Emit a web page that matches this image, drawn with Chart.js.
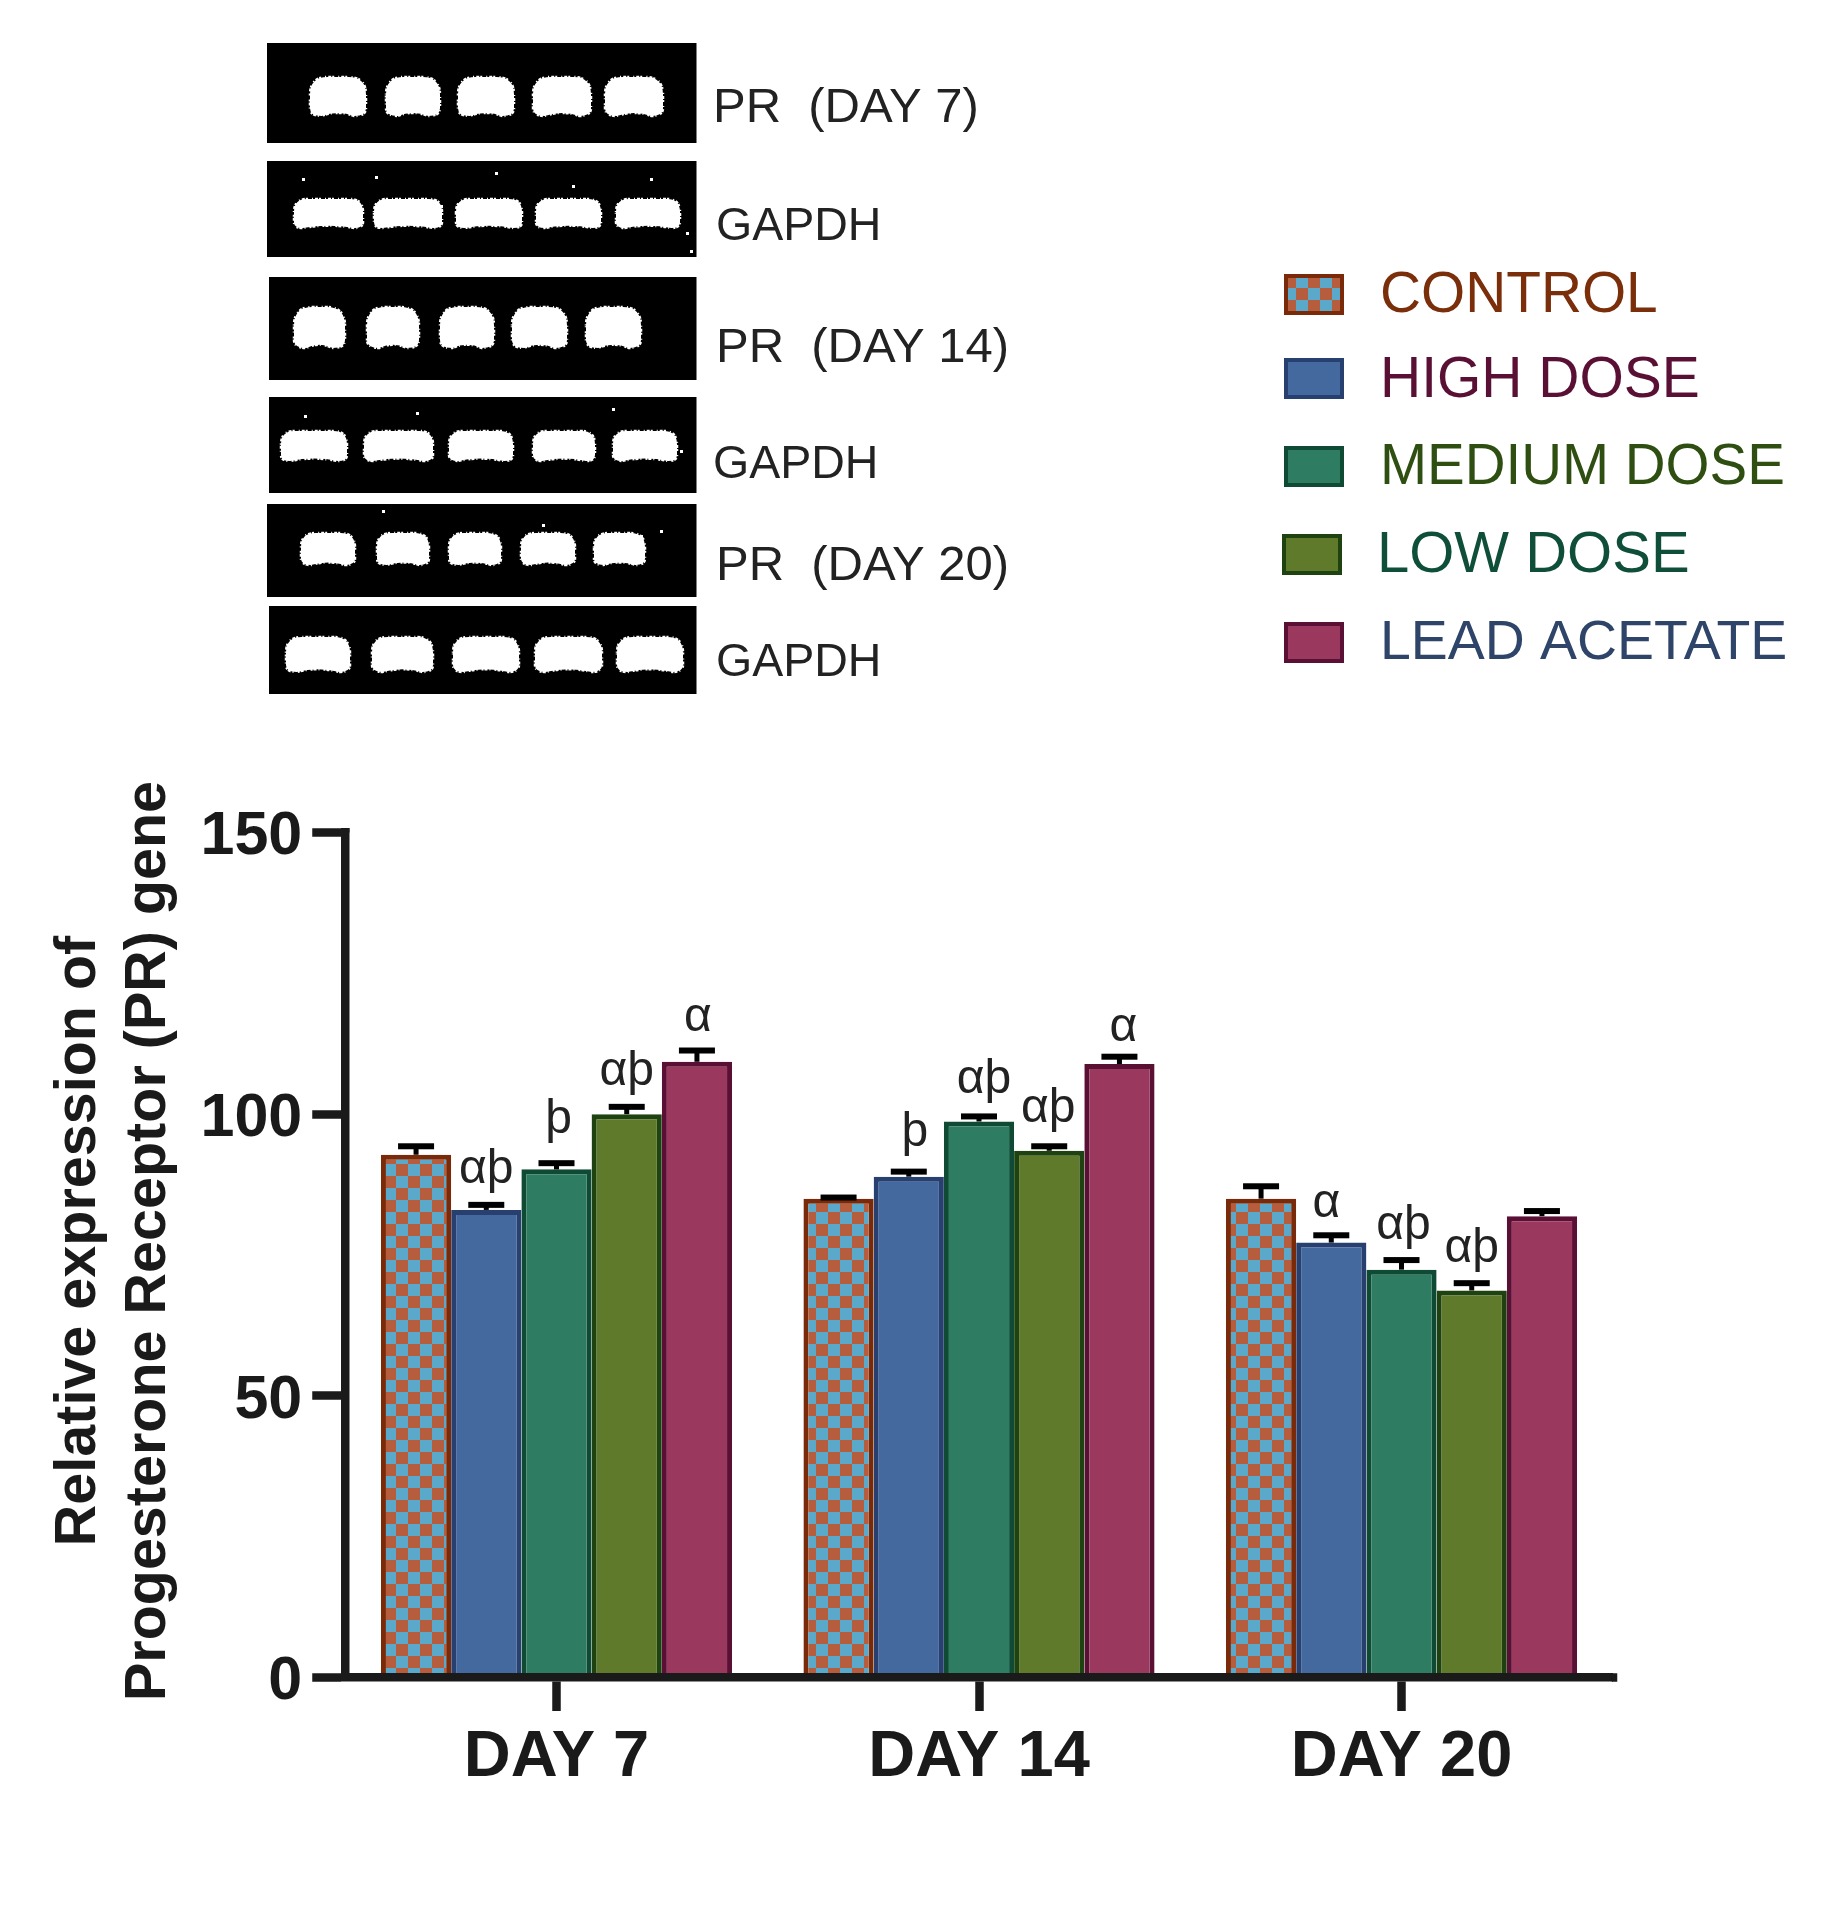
<!DOCTYPE html>
<html lang="en">
<head>
<meta charset="UTF-8">
<title>PR gene expression</title>
<script src="https://cdn.jsdelivr.net/npm/chart.js"></script>
<style>
  html, body { margin: 0; padding: 0; background: #fff; }
  canvas { display: block; }
</style>
</head>
<body>
<canvas id="chart" width="1830" height="1920"></canvas>
<script>
// values
const days = ['DAY 7', 'DAY 14', 'DAY 20'];
const seriesNames = ['CONTROL', 'HIGH DOSE', 'MEDIUM DOSE', 'LOW DOSE', 'LEAD ACETATE'];

const control = [92.8, 85.0, 85.0];
const highDose = [83.0, 88.9, 77.2];
const mediumDose = [90.2, 98.7, 72.4];
const lowDose = [100.0, 93.5, 68.7];
const leadAcetate = [109.3, 108.9, 81.9];

const controlErr = [1.5, 0.2, 2.2];
const highDoseErr = [0.9, 0.9, 1.3];
const mediumDoseErr = [1.1, 0.9, 1.7];
const lowDoseErr = [1.3, 0.8, 1.3];
const leadAcetateErr = [2.0, 1.3, 0.9];

const controlMarks = ['', '', ''];
const highDoseMarks = ['αþ', 'þ', 'α'];
const mediumDoseMarks = ['þ', 'αþ', 'αþ'];
const lowDoseMarks = ['αþ', 'αþ', 'αþ'];
const leadAcetateMarks = ['α', 'α', ''];

const yTicks = [0, 50, 100, 150];

const seriesValues = [control, highDose, mediumDose, lowDose, leadAcetate];
const seriesErrors = [controlErr, highDoseErr, mediumDoseErr, lowDoseErr, leadAcetateErr];
const seriesMarks = [controlMarks, highDoseMarks, mediumDoseMarks, lowDoseMarks, leadAcetateMarks];

// styling
const FONT = '"Liberation Sans", Arial, sans-serif';
const INK = '#1a1a1a';

function checker() {
  const c = document.createElement('canvas');
  c.width = 24; c.height = 24;
  const g = c.getContext('2d');
  g.fillStyle = '#b65d3e';
  g.fillRect(0, 0, 24, 24);
  g.fillStyle = '#5aa9cb';
  g.fillRect(12, 0, 12, 12);
  g.fillRect(0, 12, 12, 12);
  return g.createPattern(c, 'repeat');
}
const fills = [checker(), '#44699f', '#2e7d62', '#5e7a2a', '#9b385e'];
const borders = ['#7a2a08', '#27406f', '#0f4a35', '#1e4210', '#5a0f35'];
const legendText = ['#7a2e0a', '#5a1035', '#2f4f12', '#0f4f3a', '#2e4468'];
const legendSize = [56.8, 57, 56.5, 58, 55.4];

// hand nudges for the letters over the bars, px
const markNudge = {
  '2,0': [2, -8], '4,0': [1, 2],
  '1,1': [6, -4], '2,1': [5, -1], '3,1': [-1, -2], '4,1': [4, 6],
  '1,2': [-5, 4], '2,2': [2, 1], '3,2': [0, 1]
};

// gel panels above the chart, not data
const gels = [
  { box: [267, 43, 696.5, 143], bandY: [77, 116], bands: [[310, 366], [386, 440], [458, 514], [533, 591], [605, 663]], label: 'PR  (DAY 7)', size: 49, lx: 713, ly: 108 },
  { box: [267, 161, 696.5, 257], bandY: [199, 228], bands: [[294, 363], [374, 442], [456, 522], [536, 601], [616, 680]], label: 'GAPDH', size: 46.5, lx: 716, ly: 227 },
  { box: [269, 277, 696.5, 380], bandY: [307, 348], bands: [[294, 345], [367, 419], [440, 494], [512, 567], [586, 641]], label: 'PR  (DAY 14)', size: 49, lx: 716, ly: 348 },
  { box: [269, 397, 696.5, 493], bandY: [431, 461], bands: [[281, 347], [364, 433], [449, 513], [533, 595], [613, 677]], label: 'GAPDH', size: 46.5, lx: 713, ly: 465 },
  { box: [267, 504, 696.5, 597], bandY: [533, 565], bands: [[301, 355], [377, 429], [449, 501], [521, 575], [594, 645]], label: 'PR  (DAY 20)', size: 49, lx: 716, ly: 566 },
  { box: [269, 606, 696.5, 694], bandY: [637, 672], bands: [[286, 350], [372, 433], [453, 519], [535, 602], [617, 683]], label: 'GAPDH', size: 46.5, lx: 716, ly: 663 }
];
const specks = [[302, 178], [375, 176], [495, 172], [572, 185], [650, 178], [690, 250], [686, 232], [440, 205], [304, 415], [416, 412], [612, 408], [680, 450], [382, 510], [542, 524], [660, 530], [640, 535]];

function bandPath(ctx, l, r, t, b) {
  const h = b - t, m = (l + r) / 2;
  ctx.beginPath();
  ctx.moveTo(l, t + h * 0.45);
  ctx.quadraticCurveTo(l, t, l + h * 0.45, t);
  ctx.lineTo(r - h * 0.45, t);
  ctx.quadraticCurveTo(r, t, r, t + h * 0.45);
  ctx.lineTo(r, b - h * 0.2);
  ctx.quadraticCurveTo(r, b, r - h * 0.3, b);
  ctx.quadraticCurveTo(m, b - h * 0.16, l + h * 0.3, b);
  ctx.quadraticCurveTo(l, b, l, b - h * 0.2);
  ctx.closePath();
}

const extras = {
  id: 'extras',
  beforeDraw(chart) {
    const ctx = chart.ctx;
    ctx.save();
    // gels
    gels.forEach(g => {
      const [x0, y0, x1, y1] = g.box;
      ctx.fillStyle = '#000';
      ctx.fillRect(x0, y0, x1 - x0, y1 - y0);
      const [t, b] = g.bandY;
      g.bands.forEach(([l, r]) => {
        bandPath(ctx, l, r, t, b);
        ctx.fillStyle = '#fff';
        ctx.fill();
        ctx.strokeStyle = '#fff';
        ctx.lineWidth = 2.5;
        ctx.setLineDash([1, 2, 3, 1, 2, 4]);
        ctx.stroke();
        ctx.setLineDash([]);
      });
      ctx.fillStyle = '#222';
      ctx.font = g.size + 'px ' + FONT;
      ctx.textAlign = 'left';
      ctx.textBaseline = 'middle';
      ctx.fillText(g.label, g.lx, g.ly);
    });
    ctx.fillStyle = '#fff';
    specks.forEach(([x, y]) => ctx.fillRect(x, y, 3, 3));

    // legend
    const swatchY = [274, 358, 446, 534, 622];
    const textY = [296, 381, 468, 556, 644];
    seriesNames.forEach((name, i) => {
      const sx = i === 3 ? 1282 : 1284;
      ctx.fillStyle = fills[i];
      ctx.fillRect(sx, swatchY[i], 60, 41);
      ctx.strokeStyle = borders[i];
      ctx.lineWidth = 4;
      ctx.strokeRect(sx + 2, swatchY[i] + 2, 56, 37);
      ctx.fillStyle = legendText[i];
      ctx.font = legendSize[i] + 'px ' + FONT;
      ctx.textAlign = 'left';
      ctx.textBaseline = 'middle';
      ctx.fillText(name, i === 3 ? 1377 : 1380, textY[i]);
    });

    // y axis title, sits a bit above the middle of the axis
    ctx.translate(0, 1241);
    ctx.rotate(-Math.PI / 2);
    ctx.fillStyle = INK;
    ctx.font = 'bold 57.5px ' + FONT;
    ctx.textAlign = 'center';
    ctx.textBaseline = 'middle';
    ctx.fillText('Relative expression of', 0, 79);
    ctx.fillText('Progesterone Receptor (PR) gene', 0, 149);
    ctx.restore();
  },
  afterDatasetsDraw(chart) {
    const ctx = chart.ctx;
    const y = chart.scales.y;
    ctx.save();
    seriesValues.forEach((vals, s) => {
      chart.getDatasetMeta(s).data.forEach((bar, i) => {
        const top = y.getPixelForValue(vals[i] + seriesErrors[s][i]);
        ctx.fillStyle = '#000';
        ctx.fillRect(bar.x - 2.5, top, 5, bar.y - top);
        ctx.fillRect(bar.x - 18, top - 3, 36, 6);
        if (seriesMarks[s][i]) {
          const [dx, dy] = markNudge[s + ',' + i] || [0, 0];
          ctx.fillStyle = '#222';
          ctx.font = '48px ' + FONT;
          ctx.textAlign = 'center';
          ctx.textBaseline = 'alphabetic';
          ctx.fillText(seriesMarks[s][i], bar.x + dx, top - 22 + dy);
        }
      });
    });
    ctx.restore();
  },
  afterDraw(chart) {
    // x axis line runs a few px past the plot area
    const ctx = chart.ctx;
    const a = chart.chartArea;
    ctx.fillStyle = INK;
    ctx.fillRect(a.right - 1, a.bottom - 4.25, 5.5, 8.5);
    ctx.fillRect(a.left - 4.25, a.top - 4.25, 8.5, 4.25);
  }
};

new Chart(document.getElementById('chart'), {
  type: 'bar',
  data: {
    labels: days,
    datasets: seriesNames.map((name, i) => ({
      label: name,
      data: seriesValues[i],
      backgroundColor: fills[i],
      borderColor: borders[i],
      borderWidth: 5,
      barPercentage: 1,
      categoryPercentage: 0.831
    }))
  },
  options: {
    responsive: false,
    animation: false,
    layout: { padding: { top: 832.5, right: 217.25, left: 0.25, bottom: 0 } },
    plugins: { legend: { display: false }, title: { display: false }, tooltip: { enabled: false } },
    scales: {
      x: {
        afterFit: s => { s.height = 242.5; },
        border: { color: INK, width: 8.5, z: 1 },
        grid: { drawOnChartArea: false, offset: false, tickLength: 33.5, tickWidth: 8.5, tickColor: INK },
        ticks: { color: INK, padding: 8, font: { family: FONT, size: 65, weight: 'bold' } }
      },
      y: {
        min: 0,
        max: 150,
        afterFit: s => { s.width = 345; },
        afterBuildTicks: s => { s.ticks = yTicks.map(v => ({ value: v })); },
        border: { color: INK, width: 8.5 },
        grid: { drawOnChartArea: false, tickLength: 33, tickWidth: 8.5, tickColor: INK },
        ticks: { color: INK, padding: 10, labelOffset: 5, font: { family: FONT, size: 61, weight: 'bold' } }
      }
    }
  },
  plugins: [extras]
});
</script>
</body>
</html>
